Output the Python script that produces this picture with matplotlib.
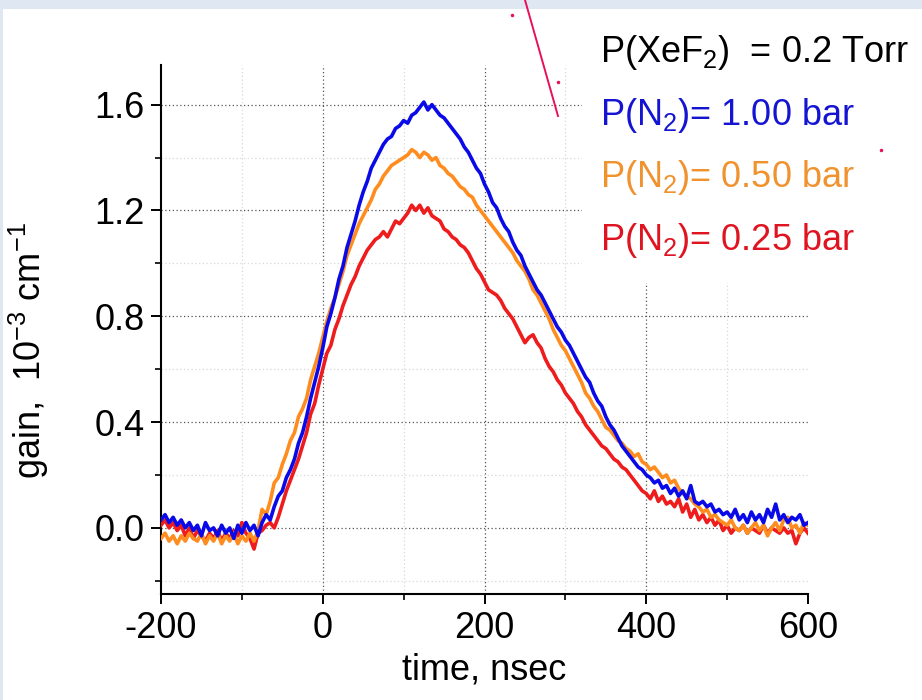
import numpy as np
import matplotlib
matplotlib.use("Agg")
import matplotlib.pyplot as plt
from matplotlib.ticker import FixedLocator
from matplotlib.lines import Line2D
from matplotlib.patches import Rectangle

plt.rcParams['font.family'] = ['Liberation Sans', 'DejaVu Sans']
plt.rcParams['mathtext.fontset'] = 'custom'
plt.rcParams['mathtext.rm'] = 'Liberation Sans'
plt.rcParams['mathtext.it'] = 'Liberation Sans'
plt.rcParams['mathtext.default'] = 'regular'
plt.rcParams['axes.unicode_minus'] = False

# ---------------- data (gain, 1e-3 cm^-1, sampled every 5 ns from -200 to 600) ----------------
t_start, t_stop = -200, 600

gain_100bar = [
    0.03, 0.05, 0.02, 0.04, 0.01, 0.03, 0.00, 0.02, -0.01, 0.01,
    -0.03, 0.02, -0.01, 0.00, -0.03, 0.01, -0.02, 0.00, -0.04, 0.01,
    -0.02, 0.02, -0.01, 0.01, -0.03, 0.02, 0.05, 0.03, 0.08, 0.12,
    0.14, 0.19, 0.22, 0.26, 0.32, 0.36, 0.42, 0.49, 0.55, 0.61,
    0.68, 0.76, 0.81, 0.87, 0.94, 0.99, 1.06, 1.11, 1.16, 1.22,
    1.27, 1.31, 1.36, 1.39, 1.42, 1.45, 1.47, 1.48, 1.51, 1.52,
    1.54, 1.53, 1.56, 1.57, 1.59, 1.61, 1.58, 1.60, 1.58, 1.56,
    1.55, 1.53, 1.51, 1.49, 1.47, 1.44, 1.42, 1.39, 1.36, 1.34,
    1.30, 1.27, 1.23, 1.21, 1.17, 1.14, 1.12, 1.08, 1.05, 1.03,
    0.99, 0.96, 0.93, 0.90, 0.88, 0.85, 0.82, 0.79, 0.76, 0.74,
    0.71, 0.69, 0.66, 0.63, 0.60, 0.57, 0.55, 0.51, 0.48, 0.46,
    0.42, 0.39, 0.37, 0.34, 0.31, 0.29, 0.27, 0.25, 0.23, 0.22,
    0.20, 0.19, 0.17, 0.18, 0.15, 0.16, 0.13, 0.15, 0.12, 0.14,
    0.11, 0.16, 0.10, 0.09, 0.10, 0.08, 0.09, 0.06, 0.07, 0.05,
    0.06, 0.04, 0.07, 0.03, 0.05, 0.02, 0.06, 0.03, 0.05, 0.02,
    0.07, 0.04, 0.09, 0.03, 0.05, 0.02, 0.04, 0.03, 0.05, 0.01,
    0.02,
]

gain_050bar = [
    -0.04, -0.02, -0.05, -0.03, -0.06, -0.03, -0.05, -0.02, -0.04, -0.05,
    -0.02, -0.06, -0.03, -0.05, -0.02, -0.06, -0.03, -0.05, -0.02, -0.06,
    -0.03, -0.05, -0.02, -0.05, -0.01, 0.07, 0.05, 0.10, 0.17, 0.19,
    0.24, 0.28, 0.33, 0.36, 0.42, 0.45, 0.49, 0.56, 0.61, 0.66,
    0.72, 0.78, 0.83, 0.87, 0.92, 0.97, 1.03, 1.07, 1.11, 1.15,
    1.18, 1.21, 1.24, 1.28, 1.30, 1.33, 1.35, 1.37, 1.38, 1.39,
    1.40, 1.41, 1.43, 1.42, 1.40, 1.42, 1.41, 1.39, 1.40, 1.37,
    1.36, 1.34, 1.33, 1.31, 1.29, 1.28, 1.26, 1.25, 1.22, 1.20,
    1.18, 1.16, 1.14, 1.12, 1.10, 1.08, 1.06, 1.04, 1.01, 0.99,
    0.97, 0.94, 0.90, 0.88, 0.85, 0.82, 0.79, 0.75, 0.72, 0.69,
    0.67, 0.64, 0.61, 0.58, 0.55, 0.51, 0.49, 0.46, 0.44, 0.41,
    0.38, 0.37, 0.35, 0.33, 0.32, 0.30, 0.29, 0.27, 0.28, 0.25,
    0.24, 0.22, 0.23, 0.21, 0.19, 0.20, 0.17, 0.18, 0.15, 0.13,
    0.12, 0.11, 0.09, 0.08, 0.06, 0.07, 0.04, 0.05, 0.03, 0.02,
    0.01, 0.03, 0.00, -0.01, 0.01, -0.02, 0.00, 0.02, -0.01, 0.01,
    -0.03, 0.00, 0.02, -0.01, 0.03, 0.04, 0.00, 0.01, -0.02, 0.02,
    0.01,
]

gain_025bar = [
    0.01, 0.03, 0.00, 0.02, -0.01, 0.01, -0.03, 0.00, -0.04, -0.01,
    -0.03, -0.05, -0.02, -0.04, -0.01, -0.05, -0.02, -0.04, -0.01, -0.03,
    0.02, -0.02, -0.04, -0.08, -0.02, -0.01, 0.01, 0.02, 0.00, 0.04,
    0.09, 0.14, 0.18, 0.22, 0.26, 0.31, 0.36, 0.43, 0.47, 0.54,
    0.60, 0.66, 0.69, 0.75, 0.79, 0.84, 0.88, 0.92, 0.95, 0.99,
    1.02, 1.05, 1.07, 1.09, 1.10, 1.12, 1.10, 1.13, 1.16, 1.15,
    1.17, 1.19, 1.22, 1.20, 1.22, 1.19, 1.21, 1.18, 1.17, 1.16,
    1.13, 1.12, 1.10, 1.09, 1.07, 1.06, 1.04, 1.01, 0.98, 0.96,
    0.93, 0.90, 0.89, 0.88, 0.86, 0.83, 0.81, 0.79, 0.76, 0.73,
    0.70, 0.72, 0.73, 0.70, 0.68, 0.64, 0.61, 0.59, 0.56, 0.54,
    0.51, 0.49, 0.47, 0.44, 0.42, 0.39, 0.37, 0.35, 0.33, 0.31,
    0.30, 0.28, 0.26, 0.25, 0.23, 0.22, 0.20, 0.18, 0.16, 0.14,
    0.13, 0.11, 0.14, 0.10, 0.12, 0.09, 0.10, 0.08, 0.11, 0.06,
    0.09, 0.04, 0.07, 0.03, 0.05, 0.02, 0.04, 0.01, 0.03, -0.01,
    0.01, -0.02, 0.00, -0.01, 0.01, -0.02, 0.00, -0.01, -0.02, 0.01,
    -0.02, 0.00, -0.01, -0.02, 0.00, -0.02, -0.01, -0.06, -0.02, 0.00,
    -0.02,
]

series_labels = [r"P(N$_2$)= 1.00 bar", r"P(N$_2$)= 0.50 bar", r"P(N$_2$)= 0.25 bar"]
header_label = r"P(XeF$_2$)  = 0.2 Torr"
x_ticks = [-200, 0, 200, 400, 600]
y_ticks = [0.0, 0.4, 0.8, 1.2, 1.6]
x_minor = [-100, 100, 300, 500]
y_minor = [-0.2, 0.2, 0.6, 1.0, 1.4]

line_colors = ['#0a0ae8', '#ff8c1e', '#ee1c1c']
text_colors = ['#1414d2', '#f0922e', '#e01420']

# ---------------- figure ----------------
W, H = 922, 700
fig = plt.figure(figsize=(W / 100, H / 100), dpi=100)
fig.patch.set_facecolor('#dfe7f3')
fig.add_artist(Rectangle((3 / W, 0), 1, (H - 9) / H, transform=fig.transFigure,
                         facecolor='white', edgecolor='none', zorder=0))

ax = fig.add_axes([161 / W, (H - 594) / H, (808 - 161) / W, (594 - 65) / H])
ax.set_facecolor('none')

for s in ['top', 'right']:
    ax.spines[s].set_visible(False)
for s in ['left', 'bottom']:
    ax.spines[s].set_linewidth(1.5)

ax.set_xlim(-200, 600)
ax.set_ylim(-0.25, 1.75)
ax.xaxis.set_major_locator(FixedLocator(x_ticks))
ax.yaxis.set_major_locator(FixedLocator(y_ticks))
ax.xaxis.set_minor_locator(FixedLocator(x_minor))
ax.yaxis.set_minor_locator(FixedLocator(y_minor))
ax.set_xticklabels([str(v) for v in x_ticks])
ax.set_yticklabels([f"{v:.1f}" for v in y_ticks])
ax.tick_params(which='major', direction='out', length=7, width=1.4, labelsize=26, pad=5)
ax.tick_params(which='minor', direction='out', length=4, width=1.2)

ax.grid(which='major', linestyle=(0, (1, 2)), color='#555555', linewidth=0.9, zorder=0)
ax.grid(which='minor', linestyle=(0, (1, 2)), color='#d8d8d8', linewidth=0.9, zorder=0)
ax.set_axisbelow(True)
for tk in ax.xaxis.get_major_ticks():
    if tk.get_loc() in (-200, 600):
        tk.gridline.set_visible(False)

# white area behind the annotation text covering the grid
ax.add_patch(Rectangle((0.651, 0.588), 0.5, 0.5, transform=ax.transAxes,
                       facecolor='white', edgecolor='none', zorder=1, clip_on=False))

series = [gain_100bar, gain_050bar, gain_025bar]
z_orders = [6, 5, 4]
for idx in [2, 1, 0]:
    g = np.asarray(series[idx])
    tt = np.linspace(t_start, t_stop, len(g))
    ax.plot(tt, g, color=line_colors[idx], linewidth=2.6, zorder=z_orders[idx],
            solid_joinstyle='round')

ax.set_xlabel("time, nsec", fontsize=26, labelpad=5)
ax.set_ylabel(r"gain,  10$^{-3}$ cm$^{-1}$", fontsize=26)
ax.yaxis.set_label_coords(-0.17, 0.46)

fig.text(600 / W, 1 - 62 / H, header_label, fontsize=26, color='black', ha='left', va='baseline')
baselines = [125, 187, 250]
for lbl, col, yb in zip(series_labels, text_colors, baselines):
    fig.text(600 / W, 1 - yb / H, lbl, fontsize=26, color=col, ha='left', va='baseline')

# stray pink stroke and dots from the source image
fig.add_artist(Line2D([525 / W, 558 / W], [1.0, 1 - 116 / H], transform=fig.transFigure,
                      color='#e8105a', linewidth=1.4))
for px, py in [(512, 15), (558, 82), (881, 150)]:
    fig.add_artist(Line2D([px / W], [1 - py / H], transform=fig.transFigure, marker='o',
                          markersize=1.5, color='#e8105a', linestyle='none'))

fig.savefig("out.png", dpi=100, facecolor=fig.get_facecolor())
